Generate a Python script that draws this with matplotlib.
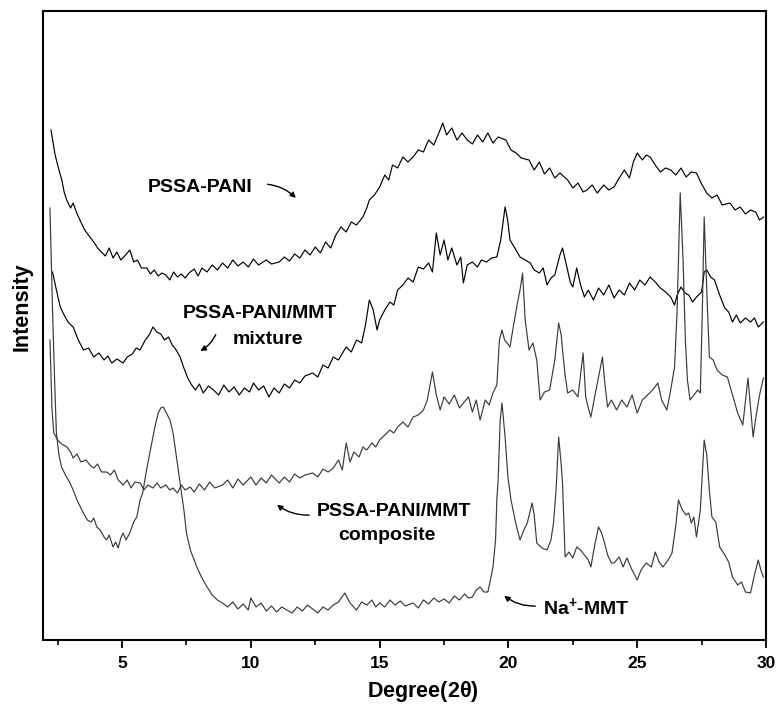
import matplotlib
matplotlib.use("Agg")
import matplotlib.pyplot as plt
import numpy as np

plt.rcParams['font.family'] = ['Liberation Sans', 'DejaVu Sans']
plt.rcParams['font.weight'] = 'bold'
plt.rcParams['mathtext.fontset'] = 'custom'
plt.rcParams['mathtext.rm'] = 'Liberation Sans:bold'
plt.rcParams['mathtext.it'] = 'Liberation Sans:bold'
plt.rcParams['mathtext.bf'] = 'Liberation Sans:bold'

# ---- data (2theta, intensity in arbitrary units) ----
pani = [
(2.24,510),(2.4,485),(2.55,470),(2.66,460),(2.75,448),(2.85,440),(3.0,432),(3.1,437),(3.24,427),(3.4,418),
(3.55,410),(3.75,403),(3.9,398),(4.05,392),(4.2,388),(4.35,384),(4.5,392),(4.65,382),(4.8,388),(4.95,380),
(5.1,384),(5.3,390),(5.45,378),(5.6,380),(5.75,372),(5.96,372),(6.1,366),(6.25,370),(6.4,364),(6.55,367),
(6.7,365),(6.85,360),(7.0,368),(7.15,363),(7.3,366),(7.45,362),(7.6,367),(7.8,371),(7.95,364),(8.1,372),
(8.3,368),(8.5,375),(8.7,370),(8.9,377),(9.1,372),(9.3,380),(9.5,374),(9.7,378),(9.9,373),(10.1,381),
(10.3,375),(10.6,380),(10.8,376),(11.1,378),(11.3,383),(11.5,379),(11.7,386),(11.9,382),(12.1,390),(12.3,385),
(12.5,393),(12.7,387),(12.9,398),(13.1,392),(13.3,405),(13.5,413),(13.7,408),(13.9,418),(14.1,415),(14.35,423),
(14.5,432),(14.6,440),(14.8,445),(15.0,453),(15.2,465),(15.35,460),(15.5,475),(15.7,472),(15.9,483),(16.1,478),
(16.3,483),(16.5,490),(16.7,488),(16.9,500),(17.1,495),(17.3,507),(17.45,517),(17.6,505),(17.8,512),(18.0,500),
(18.2,507),(18.4,500),(18.6,496),(18.8,505),(19.0,498),(19.2,507),(19.4,497),(19.6,503),(19.9,500),(20.1,490),
(20.3,487),(20.5,482),(20.8,480),(21.0,470),(21.2,478),(21.4,466),(21.6,472),(21.8,462),(22.0,467),(22.3,460),
(22.5,452),(22.7,457),(22.9,448),(23.05,450),(23.25,455),(23.45,447),(23.7,455),(23.9,450),(24.1,453),(24.3,462),
(24.5,470),(24.7,462),(24.85,478),(25.0,487),(25.2,480),(25.35,485),(25.5,483),(25.7,475),(25.9,468),(26.1,472),
(26.3,470),(26.5,465),(26.7,472),(26.9,463),(27.1,468),(27.3,467),(27.5,456),(27.7,447),(27.9,442),(28.1,445),
(28.3,435),(28.6,437),(28.8,430),(29.0,433),(29.2,426),(29.4,430),(29.6,428),(29.75,420),(29.9,423)]

mixture = [
(2.3,368),(2.45,350),(2.6,333),(2.75,325),(2.9,318),(3.1,313),(3.3,300),(3.5,290),(3.7,292),(3.9,283),
(4.1,287),(4.3,280),(4.45,284),(4.6,277),(4.8,281),(5.04,277),(5.2,283),(5.4,286),(5.55,292),(5.7,290),
(5.9,300),(6.05,305),(6.2,313),(6.35,308),(6.5,306),(6.65,300),(6.8,303),(6.95,295),(7.1,290),(7.25,283),
(7.4,272),(7.55,262),(7.7,255),(7.85,250),(8.0,256),(8.15,247),(8.35,254),(8.55,250),(8.75,245),(8.95,255),
(9.15,248),(9.35,253),(9.55,245),(9.75,252),(9.95,248),(10.1,257),(10.3,250),(10.5,254),(10.7,243),(10.9,252),
(11.1,247),(11.3,256),(11.5,252),(11.7,260),(11.9,257),(12.1,264),(12.4,267),(12.6,263),(12.8,275),(13.0,272),
(13.2,283),(13.4,280),(13.7,293),(13.9,288),(14.1,300),(14.3,297),(14.45,315),(14.6,340),(14.75,330),(14.9,310),
(15.0,320),(15.2,330),(15.4,338),(15.55,335),(15.7,350),(15.9,355),(16.1,362),(16.3,358),(16.5,373),(16.7,371),
(16.9,377),(17.05,368),(17.2,407),(17.35,385),(17.5,400),(17.65,380),(17.8,392),(18.0,375),(18.15,383),(18.25,357),
(18.4,375),(18.6,378),(18.8,373),(18.95,380),(19.15,378),(19.35,382),(19.55,383),(19.7,400),(19.87,433),(19.97,420),
(20.06,400),(20.25,392),(20.45,383),(20.65,380),(20.85,377),(21.0,370),(21.2,367),(21.35,372),(21.5,355),(21.65,362),
(21.8,365),(22.0,385),(22.1,392),(22.25,375),(22.4,358),(22.5,353),(22.65,372),(22.8,355),(22.95,343),(23.1,350),
(23.3,340),(23.5,352),(23.7,345),(23.9,355),(24.1,342),(24.3,350),(24.5,345),(24.7,357),(24.9,350),(25.1,360),
(25.3,355),(25.5,363),(25.7,358),(25.9,352),(26.1,348),(26.3,343),(26.45,335),(26.55,345),(26.7,353),(26.85,347),
(27.0,345),(27.15,338),(27.3,343),(27.5,348),(27.6,368),(27.7,370),(27.85,363),(28.0,360),(28.2,345),(28.4,332),
(28.55,328),(28.7,318),(28.85,325),(29.0,317),(29.2,322),(29.4,318),(29.55,322),(29.7,313),(29.9,318)]

composite = [
(2.2,300),(2.28,230),(2.35,207),(2.5,200),(2.65,196),(2.86,193),(3.0,188),(3.1,182),(3.25,186),(3.4,178),
(3.6,180),(3.75,175),(3.9,172),(4.05,176),(4.2,168),(4.4,168),(4.55,165),(4.7,170),(4.85,160),(5.04,155),
(5.2,160),(5.35,152),(5.5,158),(5.7,157),(5.85,150),(6.0,155),(6.2,152),(6.36,157),(6.5,152),(6.7,155),
(6.85,150),(6.98,152),(7.15,147),(7.3,155),(7.45,150),(7.64,153),(7.8,148),(8.0,156),(8.2,150),(8.4,158),
(8.6,152),(8.9,155),(9.1,160),(9.3,152),(9.5,161),(9.7,155),(10.0,163),(10.2,155),(10.4,162),(10.6,157),
(10.8,165),(11.1,157),(11.3,163),(11.5,158),(11.7,166),(11.9,162),(12.1,165),(12.4,167),(12.6,163),(12.8,171),
(13.0,168),(13.2,172),(13.4,180),(13.55,170),(13.7,197),(13.85,178),(14.0,188),(14.2,183),(14.35,193),(14.5,190),
(14.7,197),(14.85,193),(15.0,200),(15.2,205),(15.4,210),(15.55,207),(15.7,213),(15.9,218),(16.1,213),(16.3,223),
(16.5,225),(16.7,230),(16.85,240),(17.05,268),(17.2,245),(17.35,230),(17.5,243),(17.7,236),(17.9,245),(18.1,232),
(18.25,237),(18.45,243),(18.6,228),(18.75,240),(18.9,220),(19.1,240),(19.25,235),(19.4,247),(19.55,255),(19.65,300),
(19.75,310),(19.85,300),(19.95,297),(20.06,293),(20.2,315),(20.35,337),(20.45,350),(20.55,367),(20.65,320),(20.8,290),
(20.95,297),(21.1,280),(21.23,240),(21.4,248),(21.6,250),(21.8,280),(21.95,317),(22.05,305),(22.1,290),(22.2,265),
(22.3,247),(22.5,250),(22.7,243),(22.9,287),(23.0,243),(23.1,232),(23.2,223),(23.4,250),(23.65,283),(23.75,255),
(23.85,233),(24.0,240),(24.2,230),(24.4,240),(24.6,233),(24.8,245),(25.0,227),(25.2,240),(25.4,245),(25.6,250),
(25.8,257),(25.95,240),(26.15,230),(26.3,250),(26.45,273),(26.55,330),(26.67,447),(26.78,380),(26.87,300),(26.95,260),
(27.05,240),(27.2,245),(27.35,250),(27.45,247),(27.52,320),(27.6,423),(27.7,350),(27.8,283),(27.95,280),(28.1,270),
(28.3,265),(28.5,263),(28.7,245),(28.9,227),(29.1,215),(29.3,262),(29.5,203),(29.62,225),(29.75,245),(29.9,262)]

na_mmt = [
(2.2,432),(2.3,330),(2.38,260),(2.45,207),(2.55,185),(2.65,173),(2.8,165),(2.98,157),(3.1,150),(3.25,140),
(3.4,132),(3.5,127),(3.65,120),(3.8,118),(3.9,122),(4.02,113),(4.15,110),(4.3,103),(4.4,100),(4.5,105),
(4.65,93),(4.75,98),(4.85,92),(4.95,102),(5.04,107),(5.15,100),(5.3,107),(5.45,118),(5.57,123),(5.7,140),
(5.8,147),(5.95,170),(6.1,190),(6.25,210),(6.4,227),(6.5,232),(6.6,233),(6.7,228),(6.86,220),(6.98,207),
(7.1,185),(7.25,157),(7.4,130),(7.5,107),(7.65,90),(7.8,80),(7.9,73),(8.1,62),(8.3,53),(8.5,45),
(8.7,40),(8.9,37),(9.1,33),(9.3,38),(9.5,31),(9.7,36),(9.9,30),(10.0,42),(10.2,33),(10.4,37),
(10.6,29),(10.8,34),(11.0,28),(11.2,33),(11.4,30),(11.6,27),(11.8,33),(12.0,29),(12.2,35),(12.4,31),
(12.6,27),(12.8,33),(13.0,30),(13.2,35),(13.4,38),(13.65,47),(13.85,37),(14.1,30),(14.3,38),(14.5,35),
(14.7,40),(14.85,33),(15.0,37),(15.2,33),(15.4,40),(15.6,35),(15.8,39),(16.0,34),(16.3,37),(16.5,32),
(16.7,40),(16.9,36),(17.1,42),(17.3,38),(17.5,41),(17.7,37),(17.9,44),(18.1,40),(18.3,46),(18.45,42),
(18.6,43),(18.75,50),(18.9,53),(19.05,48),(19.2,48),(19.3,60),(19.4,73),(19.5,100),(19.55,140),(19.6,160),
(19.68,220),(19.75,237),(19.87,203),(19.98,163),(20.1,140),(20.3,115),(20.45,100),(20.6,110),(20.73,117),(20.92,137),
(21.0,125),(21.1,97),(21.3,92),(21.5,90),(21.65,100),(21.75,117),(21.85,150),(21.95,203),(22.05,175),(22.1,157),
(22.2,83),(22.35,88),(22.5,82),(22.65,93),(22.8,90),(22.95,85),(23.1,80),(23.2,73),(23.35,95),(23.5,113),
(23.6,108),(23.7,100),(23.85,85),(24.0,77),(24.1,77),(24.3,83),(24.45,73),(24.6,82),(24.8,70),(25.0,60),
(25.15,70),(25.35,77),(25.55,73),(25.7,88),(25.85,78),(26.0,73),(26.2,80),(26.35,87),(26.5,115),(26.6,140),
(26.75,130),(26.9,125),(27.0,127),(27.1,117),(27.2,123),(27.3,103),(27.45,130),(27.6,200),(27.7,185),(27.8,150),
(27.9,123),(28.05,118),(28.2,93),(28.4,85),(28.55,78),(28.7,63),(28.9,55),(29.05,58),(29.2,48),(29.4,47),
(29.55,65),(29.7,80),(29.8,70),(29.9,63)]

xticks = [5, 10, 15, 20, 25, 30]
xminor = [2.5, 7.5, 12.5, 17.5, 22.5, 27.5]

W, H = 777, 705
fig = plt.figure(figsize=(W/100, H/100), dpi=100)
ax = fig.add_axes([43/W, 1-640/H, (766-43)/W, (640-11)/H])

for data, col in [(pani, 'black'), (mixture, 'black'), (composite, '#3a3a3a'), (na_mmt, '#3a3a3a')]:
    arr = np.array(data)
    ax.plot(arr[:, 0], arr[:, 1], color=col, lw=0.85)

ax.set_xlim(1.93, 30)
ax.set_ylim(0, 629)
ax.set_yticks([])
ax.set_xticks(xticks)
ax.set_xticks(xminor, minor=True)
ax.tick_params(axis='x', which='major', direction='out', length=6, width=1.3,
               labelsize=12.5, pad=5.5)
ax.tick_params(axis='x', which='minor', direction='out', length=3.5, width=1.2)
for lab in ax.get_xticklabels():
    lab.set_fontweight('bold')
for s in ax.spines.values():
    s.set_linewidth(1.5)

fs = 14
ax.text(8.02, 453, 'PSSA-PANI', ha='center', va='center', fontsize=fs, fontweight='bold')
ax.text(10.35, 326, 'PSSA-PANI/MMT', ha='center', va='center', fontsize=fs, fontweight='bold')
ax.text(10.66, 300, 'mixture', ha='center', va='center', fontsize=fs, fontweight='bold')
ax.text(15.56, 129, 'PSSA-PANI/MMT', ha='center', va='center', fontsize=fs, fontweight='bold')
ax.text(15.29, 105, 'composite', ha='center', va='center', fontsize=fs, fontweight='bold')
ax.text(23.0, 33, r'Na$^{+}$-MMT', ha='center', va='center', fontsize=fs, fontweight='bold')

ap = dict(arrowstyle='-|>', color='black', lw=1.0, mutation_scale=8)
ax.annotate('', xy=(11.82, 440), xytext=(10.54, 456),
            arrowprops=dict(ap, connectionstyle='arc3,rad=-0.2'))
ax.annotate('', xy=(7.94, 288), xytext=(8.68, 308),
            arrowprops=dict(ap, connectionstyle='arc3,rad=-0.2'))
ax.annotate('', xy=(10.93, 137), xytext=(12.37, 125),
            arrowprops=dict(ap, connectionstyle='arc3,rad=-0.2'))
ax.annotate('', xy=(19.75, 46), xytext=(21.15, 34),
            arrowprops=dict(ap, connectionstyle='arc3,rad=-0.2'))

fig.text(22/W, 1-307/H, 'Intensity', rotation=90, ha='center', va='center',
         fontsize=15.5, fontweight='bold')
fig.text(423/W, 1-692/H, r'Degree(2$\theta$)', ha='center', va='center',
         fontsize=15.5, fontweight='bold')

fig.savefig('out.png', dpi=100)
